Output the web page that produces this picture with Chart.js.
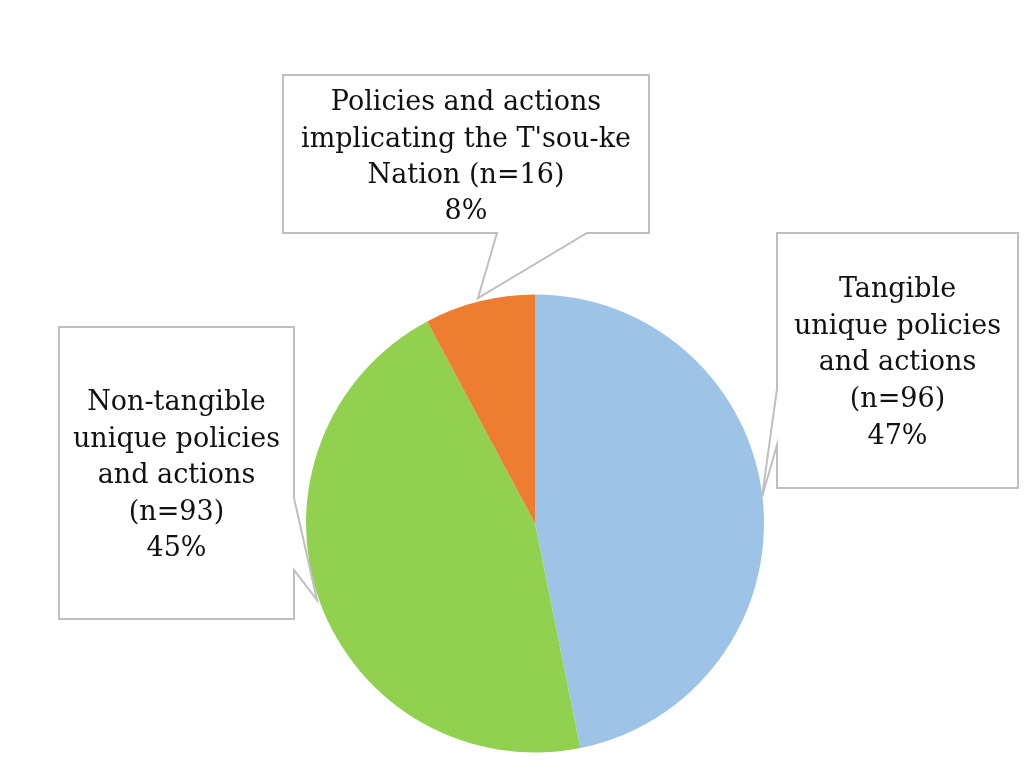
<!DOCTYPE html>
<html>
<head>
<meta charset="utf-8">
<script src="https://cdn.jsdelivr.net/npm/chart.js@4"></script>
<style>
  html, body { margin: 0; padding: 0; background: #fff; }
  #wrap { width: 1024px; height: 771px; }
</style>
</head>
<body>
<div id="wrap"><canvas id="pie"></canvas></div>
<script>
const categories = [
  ["Tangible", "unique policies", "and actions"],
  ["Non-tangible", "unique policies", "and actions"],
  ["Policies and actions", "implicating the T'sou-ke", "Nation"],
];
const counts = [96, 93, 16];
const colors = ["#9dc3e6", "#92d050", "#ed7d31"];

// callout boxes: box rect, the two points where the pointer leaves the box, and the tip
const callouts = [
  { box: [777, 233, 1018, 488], side: "left", from: [389, 445], tip: [762, 497], lines: [290, 327, 363, 400, 437] },
  { box: [59, 327, 294, 619], side: "right", from: [498, 570], tip: [317, 600], lines: [403, 440, 476, 513, 549] },
  { box: [283, 75, 649, 233], side: "bottom", from: [497, 587], tip: [478, 298], lines: [103, 140, 176, 212] },
];

const total = counts.reduce((a, b) => a + b, 0);

function labelLines(i) {
  const name = categories[i].slice();
  const n = `(n=${counts[i]})`;
  if (i === 2) name[name.length - 1] += " " + n;
  else name.push(n);
  name.push(Math.round((counts[i] / total) * 100) + "%");
  return name;
}

const calloutPlugin = {
  id: "callouts",
  afterDraw(chart) {
    const ctx = chart.ctx;
    ctx.save();
    callouts.forEach((c, i) => {
      const [x1, y1, x2, y2] = c.box;
      ctx.beginPath();
      if (c.side === "left") {
        ctx.moveTo(x1, y1); ctx.lineTo(x2, y1); ctx.lineTo(x2, y2); ctx.lineTo(x1, y2);
        ctx.lineTo(x1, c.from[1]); ctx.lineTo(c.tip[0], c.tip[1]); ctx.lineTo(x1, c.from[0]);
      } else if (c.side === "right") {
        ctx.moveTo(x1, y1); ctx.lineTo(x2, y1); ctx.lineTo(x2, c.from[0]);
        ctx.lineTo(c.tip[0], c.tip[1]); ctx.lineTo(x2, c.from[1]);
        ctx.lineTo(x2, y2); ctx.lineTo(x1, y2);
      } else {
        ctx.moveTo(x1, y1); ctx.lineTo(x2, y1); ctx.lineTo(x2, y2);
        ctx.lineTo(c.from[1], y2); ctx.lineTo(c.tip[0], c.tip[1]); ctx.lineTo(c.from[0], y2);
        ctx.lineTo(x1, y2);
      }
      ctx.closePath();
      ctx.fillStyle = "#fff";
      ctx.fill();
      ctx.strokeStyle = "#bfbfbf";
      ctx.lineWidth = 2;
      ctx.stroke();

      ctx.fillStyle = "#111";
      ctx.font = "27px 'DejaVu Serif'";
      ctx.textAlign = "center";
      ctx.textBaseline = "middle";
      const cx = (x1 + x2) / 2;
      labelLines(i).forEach((t, k) => ctx.fillText(t, cx, c.lines[k]));
    });
    ctx.restore();
  }
};

new Chart(document.getElementById("pie"), {
  type: "pie",
  data: {
    labels: categories.map((c) => c.join(" ")),
    datasets: [{ data: counts, backgroundColor: colors, borderWidth: 0 }]
  },
  options: {
    responsive: true,
    maintainAspectRatio: false,
    animation: false,
    layout: { padding: { left: 306, right: 260, top: 294, bottom: 18 } },
    plugins: { legend: { display: false }, tooltip: { enabled: false } }
  },
  plugins: [calloutPlugin]
});
</script>
</body>
</html>
